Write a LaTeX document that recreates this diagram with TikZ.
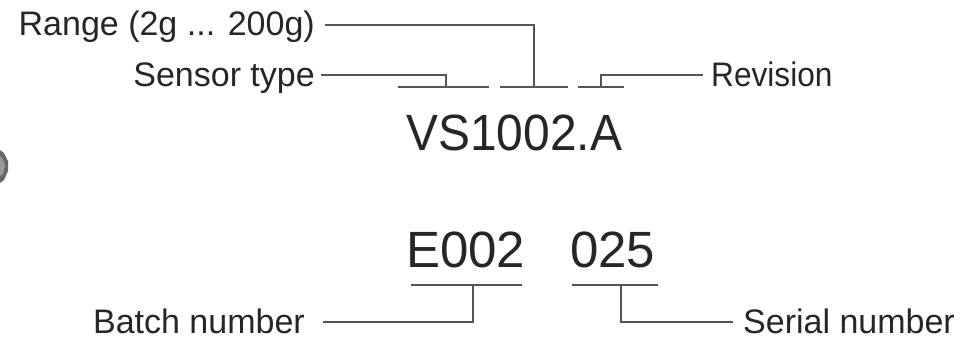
\documentclass[tikz,border=0pt]{standalone}
\usepackage{fontspec}
\setmainfont{Liberation Sans}
\definecolor{txt}{HTML}{262626}
\definecolor{ln}{HTML}{555555}
\begin{document}
\begin{tikzpicture}[x=1pt,y=1pt,
  lbl/.style={font=\fontsize{34}{38}\selectfont, text=txt, inner sep=0pt},
  code/.style={font=\fontsize{51}{56}\selectfont, text=txt, inner sep=0pt},
  conn/.style={draw=ln, line width=1.1pt}]
\useasboundingbox (0,0) rectangle (975,-345);
% cropped photo fragment at the left edge
\fill[black!60] (0,-150) -- (4,-153) -- (8,-161) -- (8,-171) -- (4,-180) -- (0,-183) -- cycle;
\fill[black!40] (0,-156) -- (3,-159) -- (5,-166) -- (3,-174) -- (0,-176) -- cycle;
% labels and codes
\node[lbl, anchor=base east] (rng) at (315,-36) {Range (2g ... 200g)};
\node[lbl, anchor=base east] (sen) at (315,-86) {Sensor type};
\node[lbl, anchor=base west] (rev) at (711,-86) {\scalebox{0.93}[1]{Revision}};
\node[code, anchor=base west] (vs) at (406,-150) {\scalebox{0.94}[1]{VS1002.A}};
\node[code, anchor=base west] (bat) at (406,-267) {E002};
\node[code, anchor=base west] (ser) at (570,-267) {025};
\node[lbl, anchor=base east] (bn) at (305,-333) {Batch number};
\node[lbl, anchor=base west] (sn) at (743,-333) {Serial number};
% underline coordinates
\coordinate (sA) at (398,-87); \coordinate (sB) at (489,-87); \coordinate (sT) at (446,-87);
\coordinate (rA) at (500,-87); \coordinate (rB) at (568,-87); \coordinate (rT) at (534,-87);
\coordinate (vA) at (578,-87); \coordinate (vB) at (624,-87); \coordinate (vT) at (601,-87);
\coordinate (bA) at (411,-285); \coordinate (bB) at (522,-285); \coordinate (bT) at (473,-285);
\coordinate (nA) at (572,-285); \coordinate (nB) at (658,-285); \coordinate (nT) at (621,-285);
% underlines
\draw[conn] (sA) -- (sB);
\draw[conn] (rA) -- (rB);
\draw[conn] (vA) -- (vB);
\draw[conn] (bA) -- (bB);
\draw[conn] (nA) -- (nB);
% leaders
\draw[conn] ([shift={(6,11)}]sen.base east) -| (sT);
\draw[conn] ([shift={(10,11)}]rng.base east) -| (rT);
\draw[conn] (vT) |- ([shift={(-8,11)}]rev.base west);
\draw[conn] (bT) |- ([shift={(18,11)}]bn.base east);
\draw[conn] (nT) |- ([shift={(-10,11)}]sn.base west);
\end{tikzpicture}
\end{document}
